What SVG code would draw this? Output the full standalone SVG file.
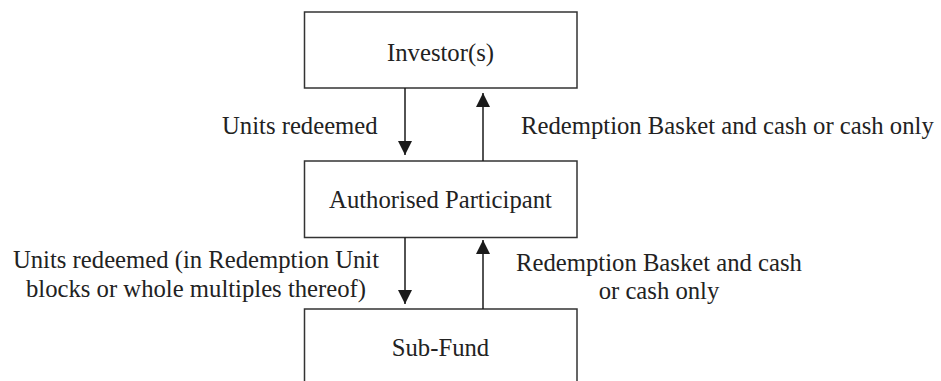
<svg xmlns="http://www.w3.org/2000/svg" width="941" height="381" viewBox="0 0 941 381">
<defs>
<marker id="ah" viewBox="0 0 14 15" refX="14" refY="7" markerWidth="14" markerHeight="15" markerUnits="userSpaceOnUse" orient="auto">
<path d="M0,0 L14,7 L0,14 Z" fill="#1a1a1a"/>
</marker>
<style>
.box{fill:#fff;stroke:#333;stroke-width:1.5}
.t{font-family:"Liberation Serif","Times New Roman",serif;font-size:24.7px;fill:#222}
.c{text-anchor:middle}
.ln{stroke:#1a1a1a;stroke-width:1.5;fill:none;marker-end:url(#ah)}
</style>
</defs>
<rect width="941" height="381" fill="#fff"/>
<g id="investors">
<rect class="box" x="304.5" y="12" width="272.5" height="76"/>
<text class="t c" x="440.5" y="61">Investor(s)</text>
</g>
<g id="authorised-participant">
<rect class="box" x="304.5" y="161" width="272.5" height="76.5"/>
<text class="t c" x="440.5" y="208">Authorised Participant</text>
</g>
<g id="sub-fund">
<rect class="box" x="304.5" y="309" width="272.5" height="80"/>
<text class="t c" x="440.5" y="356">Sub-Fund</text>
</g>
<g id="connectors">
<line class="ln" x1="405" y1="88" x2="405" y2="155"/>
<line class="ln" x1="483" y1="161" x2="483" y2="93"/>
<line class="ln" x1="405" y1="237.5" x2="405" y2="304"/>
<line class="ln" x1="483" y1="309" x2="483" y2="240"/>
<text class="t" x="222" y="134">Units redeemed</text>
<text class="t" x="521" y="134">Redemption Basket and cash or cash only</text>
<text class="t c" x="196" y="268">Units redeemed (in Redemption Unit</text>
<text class="t c" x="196" y="297">blocks or whole multiples thereof)</text>
<text class="t c" x="659" y="271">Redemption Basket and cash</text>
<text class="t c" x="659" y="299">or cash only</text>
</g>
</svg>
